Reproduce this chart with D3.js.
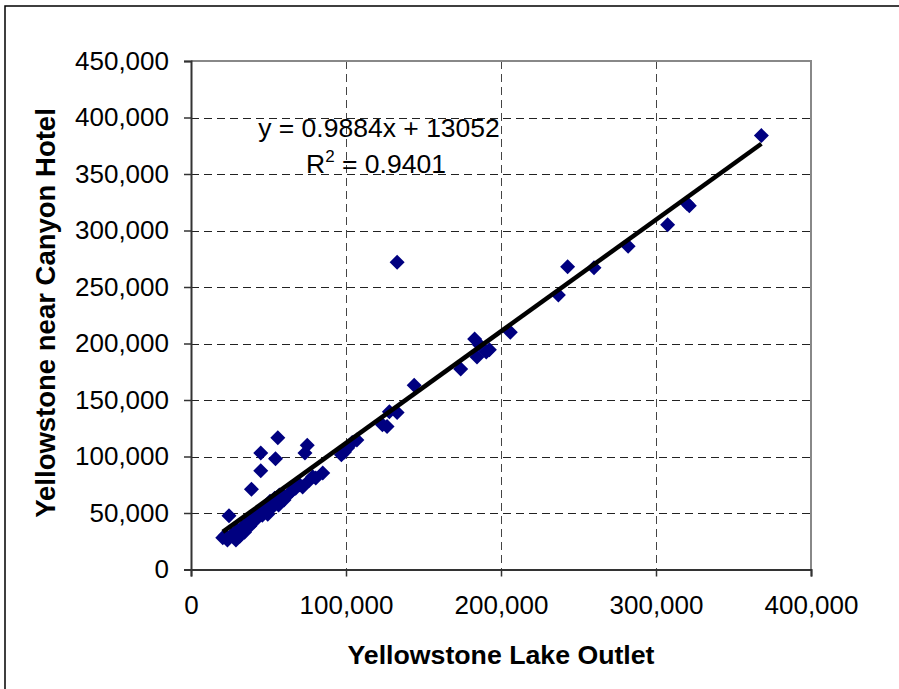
<!DOCTYPE html>
<html>
<head>
<meta charset="utf-8">
<script src="https://cdnjs.cloudflare.com/ajax/libs/d3/7.8.5/d3.min.js"></script>
<style>
  body { margin: 0; background: #fff; }
  text { font-family: "Liberation Sans", Arial, sans-serif; }
</style>
</head>
<body>
<script>
// Yellowstone Lake Outlet (x) vs Yellowstone near Canyon Hotel (y)
var lakeOutlet = [368000, 320000, 321500, 307500, 282000, 260000, 243000, 237000, 206000, 183000,
  184500, 186000, 190500, 192500, 174000, 144000, 133000, 133000, 128000, 123500,
  126500, 104000, 107000, 101000, 99000, 97000, 75000, 73500, 85000, 78500,
  72000, 64000, 59000, 56000, 45000, 54500, 45000, 39000, 24500, 20500,
  23500, 26500, 30000, 33000, 36000, 39000, 42500, 45500, 48000, 51000,
  54000, 57000, 46000, 49500, 52000, 56500, 60000, 31500, 34500, 38000,
  29000, 41000, 65000, 67500, 70000, 76500, 80500, 22000];
var canyonHotel = [384000, 324000, 322000, 305000, 286000, 267000, 268000, 243000, 210000, 204000,
  188000, 199000, 192500, 194500, 177500, 163000, 272000, 139000, 139500, 128000,
  126500, 112500, 114500, 107500, 104000, 101500, 110000, 103000, 85500, 82000,
  73000, 68000, 66000, 116500, 103000, 98000, 87500, 71000, 47500, 28000,
  26000, 31000, 35000, 37500, 41000, 44500, 48000, 52500, 56000, 60500,
  63000, 66000, 48000, 49000, 54500, 57000, 61500, 29500, 33000, 38500,
  26000, 43000, 69500, 72000, 75000, 79000, 81000, 30000];
var xTicks = [0, 100000, 200000, 300000, 400000];
var yTicks = [0, 50000, 100000, 150000, 200000, 250000, 300000, 350000, 400000, 450000];
var slope = 0.9884, intercept = 13052;
var eqLabel = "y = 0.9884x + 13052";
var r2Label = "0.9401";

var W = 899, H = 689;
var pLeft = 191, pRight = 811, pTop = 61, pBottom = 569.5;

var svg = d3.select('body').append('svg')
  .attr('width', W).attr('height', H);

// outer chart frame
svg.append('rect')
  .attr('x', 5).attr('y', 6)
  .attr('width', W + 10).attr('height', H + 10)
  .attr('fill', 'none').attr('stroke', '#000').attr('stroke-width', 1.5);

var x = d3.scaleLinear().domain([0, 400000]).range([pLeft, pRight]);
var y = d3.scaleLinear().domain([0, 450000]).range([pBottom, pTop]);
var fmt = d3.format(',');

// gridlines
svg.append('g').selectAll('line')
  .data(yTicks.slice(1, -1))
  .enter().append('line')
  .attr('x1', pLeft).attr('x2', pRight)
  .attr('y1', function(d) { return Math.round(y(d)) + 0.5; })
  .attr('y2', function(d) { return Math.round(y(d)) + 0.5; })
  .attr('stroke', '#222').attr('stroke-dasharray', '8,5');
svg.append('g').selectAll('line')
  .data(xTicks.slice(1, -1))
  .enter().append('line')
  .attr('y1', pTop).attr('y2', pBottom)
  .attr('x1', function(d) { return Math.round(x(d)) + 0.5; })
  .attr('x2', function(d) { return Math.round(x(d)) + 0.5; })
  .attr('stroke', '#444').attr('stroke-dasharray', '8,5');

// plot area top/right border
svg.append('path')
  .attr('d', 'M' + pLeft + ',' + pTop + 'H' + pRight + 'V' + pBottom)
  .attr('fill', 'none').attr('stroke', '#888').attr('stroke-width', 2);

// axes
var xAxis = svg.append('g')
  .attr('transform', 'translate(0,' + pBottom + ')')
  .call(d3.axisBottom(x).tickValues(xTicks).tickFormat(fmt).tickSize(7).tickPadding(19));
var yAxis = svg.append('g')
  .attr('transform', 'translate(' + pLeft + ',0)')
  .call(d3.axisLeft(y).tickValues(yTicks).tickFormat(fmt).tickSize(7).tickPadding(15));
[xAxis, yAxis].forEach(function(a) {
  a.select('.domain').attr('stroke', '#333').attr('stroke-width', 2);
  a.selectAll('.tick line').attr('stroke', '#333').attr('stroke-width', 1.5);
  a.selectAll('.tick text')
    .attr('font-family', '"Liberation Sans", Arial, sans-serif')
    .attr('font-size', 26).attr('fill', '#000');
});

// points
svg.append('g').selectAll('path')
  .data(lakeOutlet)
  .enter().append('path')
  .attr('d', 'M0,-7.5L7.5,0L0,7.5L-7.5,0Z')
  .attr('transform', function(d, i) {
    return 'translate(' + x(d) + ',' + y(canyonHotel[i]) + ')';
  })
  .attr('fill', '#000080');

// trendline
var xMin = d3.min(lakeOutlet), xMax = d3.max(lakeOutlet);
svg.append('line')
  .attr('x1', x(xMin)).attr('y1', y(slope * xMin + intercept))
  .attr('x2', x(xMax)).attr('y2', y(slope * xMax + intercept))
  .attr('stroke', '#000').attr('stroke-width', 4.5);

// equation labels
svg.append('text')
  .attr('x', 379).attr('y', 137)
  .attr('text-anchor', 'middle').attr('font-size', 26.5)
  .text(eqLabel);
var r2 = svg.append('text')
  .attr('x', 376).attr('y', 173)
  .attr('text-anchor', 'middle').attr('font-size', 26.5);
r2.append('tspan').text('R');
r2.append('tspan').attr('dy', -11).attr('font-size', 17).text('2');
r2.append('tspan').attr('dy', 11).text(' = ' + r2Label);

// axis titles
svg.append('text')
  .attr('x', 501).attr('y', 664)
  .attr('text-anchor', 'middle').attr('font-size', 26.7).attr('font-weight', 'bold')
  .text('Yellowstone Lake Outlet');
svg.append('text')
  .attr('transform', 'translate(55,313) rotate(-90)')
  .attr('text-anchor', 'middle').attr('font-size', 27.5).attr('font-weight', 'bold')
  .text('Yellowstone near Canyon Hotel');
</script>
</body>
</html>
